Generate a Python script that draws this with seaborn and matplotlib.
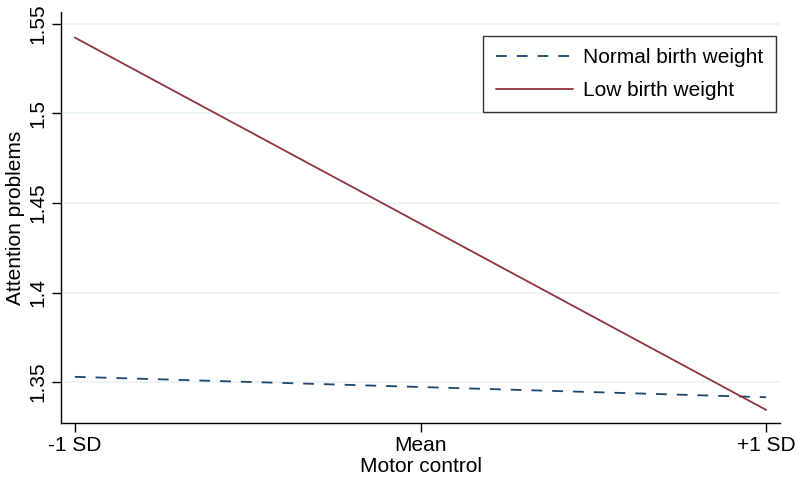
import matplotlib
matplotlib.use("Agg")
import matplotlib.pyplot as plt
import seaborn as sns
import pandas as pd

# Values
motor = [-1, 0, 1]
tick_labels = ["-1 SD", "Mean", "+1 SD"]
normal_bw = [1.3530, 1.3473, 1.3416]
low_bw = [1.5424, 1.4385, 1.3345]
groups = ["Normal birth weight", "Low birth weight"]

df = pd.DataFrame({
    "Motor control": motor * 2,
    "Attention problems": normal_bw + low_bw,
    "Group": [groups[0]] * 3 + [groups[1]] * 3,
})

sns.set_style("white")
plt.rcParams["font.family"] = ["Liberation Sans", "DejaVu Sans"]
plt.rcParams["text.color"] = "black"
plt.rcParams["axes.labelcolor"] = "black"
plt.rcParams["xtick.color"] = "black"
plt.rcParams["ytick.color"] = "black"

fig = plt.figure(figsize=(8, 4.82), dpi=100)
ax = fig.add_axes([0.07625, 0.122, 0.89875, 0.854])

palette = {groups[0]: "#1a476f", groups[1]: "#90353b"}
dashes = {groups[0]: (6, 5.5), groups[1]: ""}
sns.lineplot(data=df, x="Motor control", y="Attention problems", hue="Group",
             style="Group", palette=palette, dashes=dashes, linewidth=1.3,
             ax=ax, zorder=3)

ax.set_xlim(-1.04, 1.04)
ax.set_ylim(1.3271, 1.5569)
ax.set_xticks(motor)
ax.set_xticklabels(tick_labels, fontsize=15)
ax.set_yticks([1.35, 1.4, 1.45, 1.5, 1.55])
ax.set_yticklabels(["1.35", "1.4", "1.45", "1.5", "1.55"], fontsize=15,
                   rotation=90, va="center")
ax.set_xlabel("Motor control", fontsize=15, labelpad=1)
ax.set_ylabel("Attention problems", fontsize=15, labelpad=3)

ax.grid(axis="y", color="#eaf2f3", linewidth=1.2, zorder=0)
for side in ["top", "right"]:
    ax.spines[side].set_visible(False)
for side in ["left", "bottom"]:
    ax.spines[side].set_color("black")
    ax.spines[side].set_linewidth(1.0)
ax.tick_params(axis="both", which="both", length=6.5, width=1, color="black",
               direction="out", left=True, bottom=True, pad=3)

leg = ax.legend(loc="upper right", bbox_to_anchor=(0.9944, 0.941), fontsize=15,
                frameon=True, fancybox=False, edgecolor="black",
                handlelength=3.7, handletextpad=0.5, borderpad=0.6,
                labelspacing=0.65, borderaxespad=0)
leg.get_frame().set_linewidth(1.0)

fig.savefig("out.png", dpi=100)
